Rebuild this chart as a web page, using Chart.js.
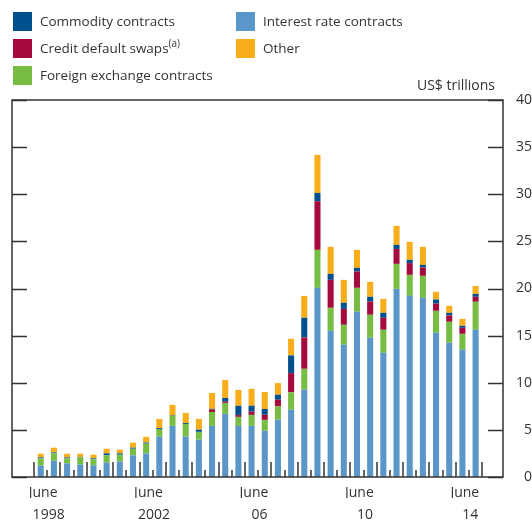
<!DOCTYPE html>
<html>
<head>
<meta charset="utf-8">
<script src="https://cdn.jsdelivr.net/npm/chart.js@4.4.1/dist/chart.umd.min.js"></script>
<style>
  html, body { margin: 0; padding: 0; background: #fff; }
  body { width: 532px; height: 520px; position: relative; overflow: hidden; font-family: "Open Sans", sans-serif; color: #333; }
  #chart { position: absolute; left: 0; top: 0; }
  .legend-item { position: absolute; font-size: 13.5px; line-height: 19px; height: 19px; white-space: nowrap; }
  .legend-item .sw { position: absolute; left: 0; top: 0; width: 19px; height: 19px; }
  .legend-item span.txt { position: absolute; left: 27px; top: 0; }
  .legend-item sup { font-size: 10px; line-height: 0; vertical-align: 6px; }
  #units { position: absolute; right: 37px; top: 75px; font-size: 14px; color: #333; }
</style>
</head>
<body>
<canvas id="chart" width="532" height="520"></canvas>
<div id="legend"></div>
<div id="units">US$ trillions</div>
<script>
document.addEventListener('DOMContentLoaded', () => {
    // Semi-annual periods, June 1998 to December 2014
    const periods = [
        'Jun 1998', 'Dec 1998', 'Jun 1999', 'Dec 1999', 'Jun 2000', 'Dec 2000',
        'Jun 2001', 'Dec 2001', 'Jun 2002', 'Dec 2002', 'Jun 2003', 'Dec 2003',
        'Jun 2004', 'Dec 2004', 'Jun 2005', 'Dec 2005', 'Jun 2006', 'Dec 2006',
        'Jun 2007', 'Dec 2007', 'Jun 2008', 'Dec 2008', 'Jun 2009', 'Dec 2009',
        'Jun 2010', 'Dec 2010', 'Jun 2011', 'Dec 2011', 'Jun 2012', 'Dec 2012',
        'Jun 2013', 'Dec 2013', 'Jun 2014', 'Dec 2014'
    ];

    // Values in US$ trillions (stacked bottom to top)
    const interestRate = [
        1.20, 1.73, 1.45, 1.31, 1.24, 1.52, 1.63, 2.30, 2.50, 4.28, 5.42, 4.28,
        3.96, 5.42, 6.70, 5.42, 5.42, 4.90, 6.08, 7.14, 9.26, 20.07, 15.51, 14.03,
        17.53, 14.77, 13.18, 19.96, 19.22, 19.01, 15.30, 14.24, 13.50, 15.62
    ];
    const foreignExchange = [
        0.78, 0.78, 0.53, 0.77, 0.63, 0.78, 0.74, 0.70, 1.05, 0.81, 1.06, 1.35,
        0.83, 1.48, 1.16, 0.96, 1.17, 1.16, 1.41, 1.84, 2.22, 4.03, 2.44, 2.12,
        2.54, 2.44, 2.44, 2.65, 2.23, 2.33, 2.33, 2.23, 1.69, 2.97
    ];
    const creditDefaultSwaps = [
        0, 0, 0, 0, 0, 0, 0, 0, 0, 0, 0, 0,
        0, 0.27, 0.13, 0.19, 0.34, 0.54, 0.71, 2.04, 3.32, 5.16, 2.97, 1.69,
        1.73, 1.41, 1.27, 1.59, 1.24, 0.89, 0.78, 0.67, 0.64, 0.53
    ];
    const commodity = [
        0.10, 0.10, 0.10, 0.05, 0.11, 0.21, 0.14, 0.11, 0.11, 0.10, 0.05, 0.10,
        0.23, 0.07, 0.40, 0.99, 0.63, 0.62, 0.53, 1.88, 2.10, 0.88, 0.63, 0.64,
        0.39, 0.50, 0.53, 0.43, 0.35, 0.28, 0.42, 0.28, 0.21, 0.31
    ];
    const other = [
        0.39, 0.50, 0.39, 0.34, 0.39, 0.49, 0.39, 0.53, 0.60, 0.97, 1.12, 1.07,
        1.14, 1.68, 1.91, 1.68, 1.79, 1.81, 1.23, 1.76, 2.32, 4.03, 2.87, 2.44,
        1.91, 1.59, 1.48, 2.01, 1.91, 1.91, 0.82, 0.74, 0.74, 0.85
    ];

    // x-axis labels: "June" under the June bar, year a little to the right
    const xLabelIndex = [0, 8, 16, 24, 32];
    const monthLabels = ['June', 'June', 'June', 'June', 'June'];
    const yearLabels = ['1998', '2002', '06', '10', '14'];
    const yTicks = [0, 5, 10, 15, 20, 25, 30, 35, 40];

    const colors = {
        commodity: '#00508d',
        cds: '#a50a3e',
        fx: '#78bd43',
        interest: '#5a96c8',
        other: '#f8ad1b'
    };

    // Legend in two columns, like the original
    const legendItems = [
        { text: 'Commodity contracts', color: colors.commodity, x: 13, y: 12 },
        { text: 'Credit default swaps<sup>(a)</sup>', color: colors.cds, x: 13, y: 39 },
        { text: 'Foreign exchange contracts', color: colors.fx, x: 13, y: 66 },
        { text: 'Interest rate contracts', color: colors.interest, x: 236, y: 12 },
        { text: 'Other', color: colors.other, x: 236, y: 39 }
    ];
    document.getElementById('legend').innerHTML = legendItems.map(item => `
        <div class="legend-item" style="left:${item.x}px;top:${item.y}px;">
            <div class="sw" style="background:${item.color};"></div>
            <span class="txt">${item.text}</span>
        </div>`).join('');

    const toPoints = arr => arr.map((v, i) => ({ x: i, y: v }));

    // frame + inward tick marks
    const framePlugin = {
        id: 'frame',
        afterDraw(chart) {
            const { ctx, chartArea: a, scales } = chart;
            ctx.save();
            ctx.strokeStyle = '#333';
            ctx.lineWidth = 1.5;
            ctx.strokeRect(a.left, a.top, a.right - a.left, a.bottom - a.top);

            // y ticks on both sides, pointing in
            yTicks.forEach(v => {
                const y = Math.round(scales.y.getPixelForValue(v)) + 0.5;
                ctx.beginPath();
                ctx.moveTo(a.left, y); ctx.lineTo(a.left + 15, y);
                ctx.moveTo(a.right - 15, y); ctx.lineTo(a.right, y);
                ctx.stroke();
            });

            // x ticks between bars: tall at year start, short at mid-year
            for (let i = 0; i <= periods.length; i++) {
                const x = Math.round(scales.x.getPixelForValue(i - 0.5));
                const len = i % 2 === 0 ? 15 : 7;
                ctx.beginPath();
                ctx.moveTo(x, a.bottom); ctx.lineTo(x, a.bottom - len);
                ctx.stroke();
            }
            ctx.restore();
        }
    };

    const tickFont = { family: '"Open Sans", sans-serif', size: 14 };
    const xMin = -2.18;
    const xMax = 35.08;

    new Chart(document.getElementById('chart'), {
        type: 'bar',
        data: {
            datasets: [
                { label: 'Interest rate contracts', data: toPoints(interestRate), backgroundColor: colors.interest },
                { label: 'Foreign exchange contracts', data: toPoints(foreignExchange), backgroundColor: colors.fx },
                { label: 'Credit default swaps', data: toPoints(creditDefaultSwaps), backgroundColor: colors.cds },
                { label: 'Commodity contracts', data: toPoints(commodity), backgroundColor: colors.commodity },
                { label: 'Other', data: toPoints(other), backgroundColor: colors.other }
            ]
        },
        options: {
            responsive: false,
            animation: false,
            layout: { padding: { left: 12, top: 100, right: 0, bottom: 0 } },
            datasets: { bar: { barPercentage: 0.46, categoryPercentage: 1 } },
            plugins: { legend: { display: false }, tooltip: { enabled: false } },
            scales: {
                x: {
                    type: 'linear',
                    stacked: true,
                    offset: false,
                    min: xMin,
                    max: xMax,
                    grid: { display: false },
                    border: { display: false },
                    afterBuildTicks: s => { s.ticks = xLabelIndex.map(v => ({ value: v + 0.18 })); },
                    afterFit: s => { s.height = 21; },
                    ticks: {
                        autoSkip: false,
                        maxRotation: 0,
                        padding: 0,
                        color: '#333',
                        font: tickFont,
                        callback: (v, i) => monthLabels[i]
                    }
                },
                xYear: {
                    type: 'linear',
                    position: 'bottom',
                    offset: false,
                    min: xMin,
                    max: xMax,
                    grid: { display: false },
                    border: { display: false },
                    afterBuildTicks: s => { s.ticks = xLabelIndex.map(v => ({ value: v + 0.6 })); },
                    afterFit: s => { s.height = 22; },
                    ticks: {
                        autoSkip: false,
                        maxRotation: 0,
                        padding: 1,
                        color: '#333',
                        font: tickFont,
                        callback: (v, i) => yearLabels[i]
                    }
                },
                y: {
                    position: 'right',
                    stacked: true,
                    min: 0,
                    max: 40,
                    grid: { display: false, drawTicks: false },
                    border: { display: false },
                    afterFit: s => { s.width = 29; },
                    ticks: {
                        stepSize: 5,
                        crossAlign: 'far',
                        padding: 6,
                        color: '#333',
                        font: tickFont
                    }
                }
            }
        },
        plugins: [framePlugin]
    });
});
</script>
</body>
</html>
